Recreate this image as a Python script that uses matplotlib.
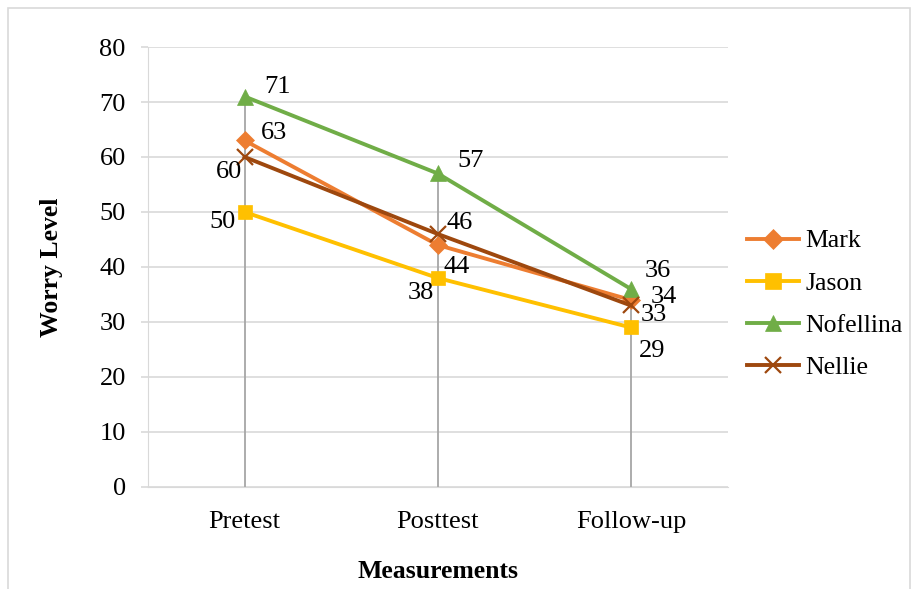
import matplotlib.pyplot as plt
from matplotlib.patches import Rectangle

# Worry level scores for each participant
fases = ["Pretest", "Posttest", "Follow-up"]
mark = [63, 44, 34]
jason = [50, 38, 29]
nofellina = [71, 57, 36]
nellie = [60, 46, 33]

plt.rcParams['font.family'] = ['Liberation Serif', 'DejaVu Serif']

fig = plt.figure(figsize=(9.18, 5.89), dpi=100)
ax = fig.add_axes([0.1612, 0.1732, 0.6313, 0.7470])

x = list(range(len(fases)))

# linhas verticais do zero até o maior valor
topo = [max(v) for v in zip(mark, jason, nofellina, nellie)]
ax.vlines(x, 0, topo, colors='#a6a6a6', linewidth=1.3, zorder=1)

series = [
    ("Mark", mark, '#ED7D31', 'D', 9),
    ("Jason", jason, '#FFC000', 's', 10),
    ("Nofellina", nofellina, '#70AD47', '^', 11),
    ("Nellie", nellie, '#9E480E', 'x', 11),
]
for nome, vals, cor, mk, ms in series:
    ax.plot(x, vals, color=cor, linewidth=2.8, marker=mk, markersize=ms,
            markeredgewidth=1.6 if mk == 'x' else 0.5, markeredgecolor=cor,
            label=nome, zorder=3)

# posição dos rótulos (pixels)
desloc = {
    "Mark": [(29, 7), (19, -22), (33, 3)],
    "Jason": [(-22, -10), (-17, -15), (21, -24)],
    "Nofellina": [(33, 10), (33, 12), (27, 18)],
    "Nellie": [(-16, -15), (22, 11), (23, -10)],
}
for nome, vals, cor, mk, ms in series:
    for xi, v, d in zip(x, vals, desloc[nome]):
        ax.annotate(str(v), (xi, v), xytext=d, textcoords='offset pixels',
                    ha='center', va='center', fontsize=19, zorder=5)

ax.set_xlim(-0.5, 2.5)
ax.set_ylim(0, 80)
ax.set_yticks(range(0, 81, 10))
ax.set_xticks(x)
ax.set_xticklabels(fases)
ax.tick_params(axis='y', labelsize=19, color='#d9d9d9', length=5, width=1.2, pad=11)
ax.tick_params(axis='x', labelsize=19, length=0, pad=17)
ax.grid(axis='y', color='#d9d9d9', linewidth=1.2, zorder=0)
ax.set_axisbelow(True)
for s in ['top', 'right']:
    ax.spines[s].set_visible(False)
ax.spines['left'].set_color('#d9d9d9')
ax.spines['bottom'].set_color('#d9d9d9')

ax.set_ylabel("Worry Level", fontsize=18.5, fontweight='bold', labelpad=26)
ax.set_xlabel("Measurements", fontsize=18.5, fontweight='bold', labelpad=20)

ax.legend(loc='center left', bbox_to_anchor=(0.99, 0.415), frameon=False,
          fontsize=18.5, handlelength=2.0, labelspacing=0.75, handletextpad=0.25,
          markerscale=1.1, borderaxespad=0.6)

# moldura externa
fig.patches.append(Rectangle((8 / 918, -0.01), 902 / 918, 1 - 8 / 589 + 0.01,
                             transform=fig.transFigure, fill=False,
                             edgecolor='#d9d9d9', linewidth=1.2))

fig.savefig("out.png", dpi=100)
